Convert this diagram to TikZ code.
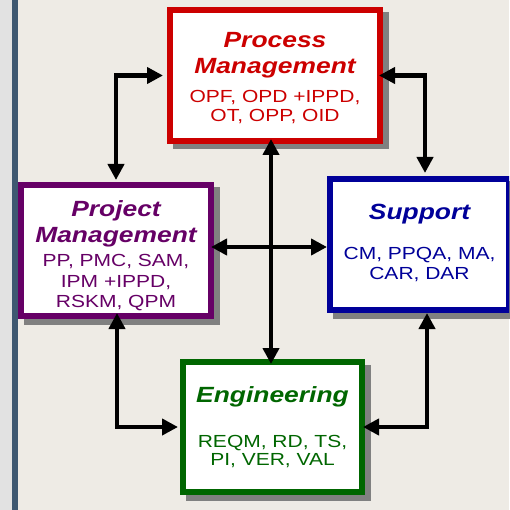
\documentclass[tikz,border=0pt]{standalone}
\usepackage{fontspec}
\setmainfont{Liberation Sans}[FakeStretch=1.2]
\usetikzlibrary{arrows.meta,backgrounds}

\definecolor{pagebg}{HTML}{EEEBE5}
\definecolor{stripbg}{HTML}{E2E2E2}
\definecolor{stripbar}{HTML}{3E5871}
\definecolor{shadowgray}{HTML}{808080}
\definecolor{procred}{HTML}{CC0000}
\definecolor{projpurple}{HTML}{660066}
\definecolor{suppblue}{HTML}{000099}
\definecolor{enggreen}{HTML}{006600}

\newcommand{\ttlfont}{\fontsize{22}{26}\selectfont\bfseries\itshape}
\newcommand{\bdyfont}{\fontsize{17.5}{26}\selectfont\mdseries\upshape}

\begin{document}
\begin{tikzpicture}[x=1pt,y=-1pt,
  areabox/.style={draw=#1, text=#1, fill=white, line width=6pt,
    inner sep=0pt, align=center, font=\bdyfont},
  dbl/.style={line width=4.8pt,
    arrows={Triangle[length=16pt,width=16pt]-Triangle[length=16pt,width=16pt]}}
]
\useasboundingbox (0,0) rectangle (509,510);
\clip (0,0) rectangle (509,510);

% process areas
\node[areabox=procred, minimum width=210pt, minimum height=131pt] (pm) at (275,75.5)
  {\ttlfont\rule{0pt}{20.4pt}Process\\\ttlfont Management\\[3pt]\bdyfont OPF, OPD +IPPD,\\[-7pt]\bdyfont OT, OPP, OID};
\node[areabox=projpurple, minimum width=190pt, minimum height=131pt] (pj) at (116,250.5)
  {\ttlfont\rule{0pt}{26.5pt}Project\\\ttlfont Management\\[-2pt]\bdyfont PP, PMC, SAM,\\[-5pt]\bdyfont IPM +IPPD,\\[-6pt]\bdyfont RSKM, QPM};
\node[areabox=suppblue, minimum width=179pt, minimum height=131pt] (sp) at (419.5,244.5)
  {\ttlfont Support\\[14pt]\bdyfont CM, PPQA, MA,\\[-6pt]\bdyfont CAR, DAR\rule[-4.7pt]{0pt}{0pt}};
\node[areabox=enggreen, minimum width=179pt, minimum height=130pt] (eg) at (272.5,427)
  {\ttlfont Engineering\\[19pt]\bdyfont REQM, RD, TS,\\[-8pt]\bdyfont PI, VER, VAL};

% page, side strip and box shadows
\begin{scope}[on background layer]
  \fill[pagebg] (0,0) rectangle (509,510);
  \fill[stripbg] (0,0) rectangle (12,510);
  \fill[stripbar] (12,0) rectangle (18,510);
  \foreach \b in {pm,pj,sp,eg}
    \fill[shadowgray] ([shift={(5.5pt,-5.5pt)}]\b.north west) rectangle ([shift={(5.5pt,-5.5pt)}]\b.south east);
\end{scope}

% routing columns and rows
\coordinate (cx) at (271,0);
\coordinate (cy) at (0,247);
\coordinate (rx) at (425,0);
\coordinate (brx) at (427,0);
\coordinate (lx) at (117,0);

% connectors
\draw[dbl, shorten <=4pt, shorten >=2pt] (pm.west) -| (pj.north);
\draw[dbl, shorten <=-4pt, shorten >=3pt] (pm.east) -| (sp.north -| rx);
\draw[dbl, shorten <=-5pt, shorten >=-5pt] (pm.south -| cx) -- (eg.north -| cx);
\draw[dbl, shorten <=-3pt] (pj.east |- cy) -- (sp.west |- cy);
\draw[dbl, shorten <=-6pt, shorten >=2pt] (pj.south -| lx) |- (eg.west);
\draw[dbl, shorten >=-2pt] (sp.south -| brx) |- (eg.east);
\end{tikzpicture}
\end{document}
